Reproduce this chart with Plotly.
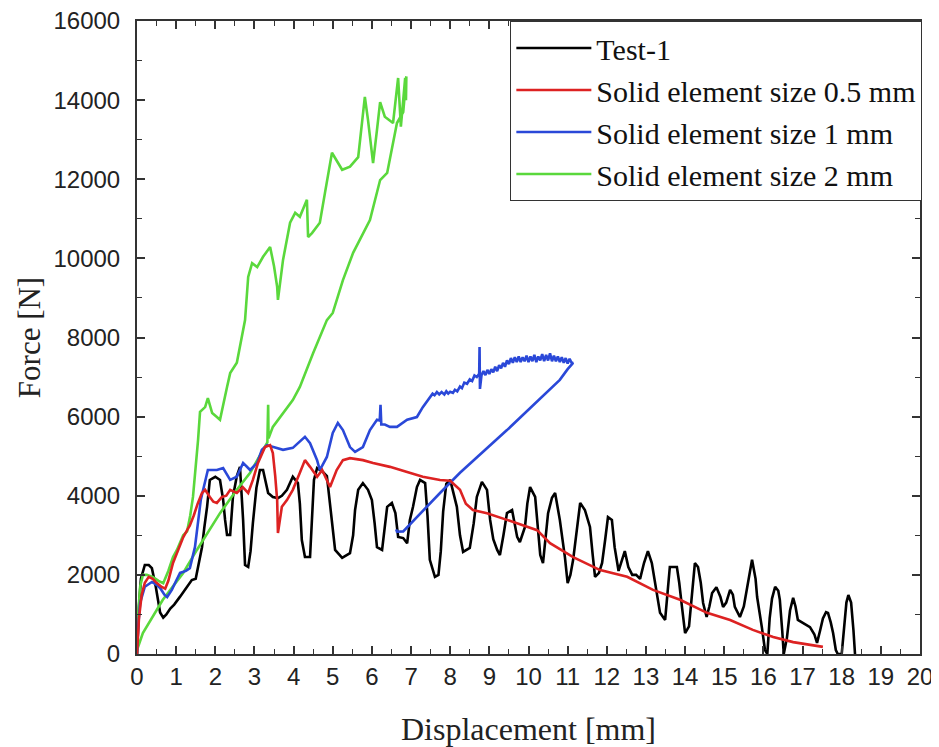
import plotly.graph_objects as go

# ---------------- data ----------------
test_x = [0, 0.05, 0.1, 0.2, 0.3, 0.38, 0.48, 0.59, 0.67, 0.75, 0.85, 0.95, 1.1, 1.25, 1.4, 1.5,
          1.6, 1.66, 1.72, 1.79, 1.86, 2.0, 2.12, 2.2, 2.25, 2.3, 2.38, 2.45, 2.55, 2.63, 2.71, 2.76,
          2.84, 2.9, 2.96, 3.05, 3.14, 3.22, 3.35, 3.47, 3.6, 3.7, 3.83, 3.98, 4.11, 4.16, 4.21, 4.29,
          4.42, 4.47, 4.52, 4.6, 4.75, 4.85, 4.95, 5.06, 5.24, 5.44, 5.52, 5.57, 5.65, 5.77, 5.9, 6.0,
          6.07, 6.13, 6.26, 6.33, 6.39, 6.51, 6.6, 6.67, 6.8, 6.9, 6.97, 7.05, 7.15, 7.23, 7.36, 7.42,
          7.48, 7.61, 7.7, 7.76, 7.82, 7.9, 8.0, 8.17, 8.25, 8.33, 8.5, 8.6, 8.68, 8.81, 8.94, 9.02,
          9.1, 9.2, 9.27, 9.36, 9.45, 9.58, 9.71, 9.78, 9.91, 9.97, 10.04, 10.17, 10.24, 10.3, 10.37,
          10.44, 10.5, 10.6, 10.68, 10.8, 10.93, 11.0, 11.07, 11.14, 11.23, 11.32, 11.44, 11.57, 11.64,
          11.7, 11.8, 11.88, 11.96, 12.03, 12.13, 12.2, 12.3, 12.4, 12.46, 12.55, 12.65, 12.75, 12.85,
          12.95, 13.05, 13.15, 13.23, 13.36, 13.49, 13.55, 13.61, 13.79, 13.85, 13.92, 14.0, 14.1,
          14.17, 14.25, 14.33, 14.4, 14.46, 14.55, 14.62, 14.69, 14.8, 14.9, 14.97, 15.05, 15.15,
          15.22, 15.27, 15.4, 15.5, 15.58, 15.71, 15.8, 15.84, 15.96, 16.04, 16.1, 16.16, 16.22, 16.3,
          16.38, 16.42, 16.48, 16.52, 16.6, 16.68, 16.76, 16.82, 16.88, 17.01, 17.19, 17.3, 17.37,
          17.45, 17.52, 17.6, 17.65, 17.72, 17.78, 17.85, 17.9, 18.0, 18.06, 18.12, 18.17, 18.24,
          18.3, 18.34]
test_y = [0, 1200, 1900, 2250, 2250, 2170, 1700, 1050, 920, 1000, 1150, 1250, 1450, 1650, 1870, 1900,
          2400, 2700, 3200, 3720, 4400, 4480, 4400, 3900, 3390, 3010, 3010, 3970, 4500, 4730, 3390, 2250,
          2200, 2600, 3310, 4200, 4650, 4650, 4070, 3970, 3940, 4000, 4150, 4480, 4320, 3800, 2880, 2450,
          2450, 3400, 4400, 4700, 4600, 4500, 3600, 2630, 2430, 2550, 3000, 3640, 4150, 4320, 4150, 3890,
          3300, 2700, 2630, 3200, 3720, 3820, 3560, 2960, 2930, 2800, 3390, 3720, 4220, 4400, 4320, 3500,
          2380, 1950, 2000, 2600, 3600, 4300, 4400, 3720, 3000, 2580, 2680, 3300, 3970, 4350, 4150, 3390,
          2900, 2630, 2500, 3000, 3560, 3640, 2960, 2830, 3210, 3800, 4220, 3970, 3060, 2500, 2300,
          2900, 3560, 3950, 4070, 3390, 2450, 1790, 2000, 2380, 3100, 3820, 3640, 3210, 2500,
          1950, 2050, 2300, 2900, 3460, 3390, 2700, 2100, 2400, 2600, 2200, 2000, 2000, 1900,
          2300, 2600, 2300, 1790, 1040, 860, 1500, 2200, 2200, 1800, 1190, 530, 700,
          1500, 2300, 2200, 1800, 1290, 935, 1200, 1540, 1690, 1450, 1190, 1300, 1620,
          1500, 1190, 935, 1200, 1690, 2380, 1900, 1440, 680, 100, 0, 900, 1400, 1700,
          1600, 1370, 600, 0, 400, 1100, 1420, 1200, 860, 780, 680, 500, 280,
          600, 900, 1060, 1040, 800, 530, 100, 0, 0, 600, 1300, 1490, 1300,
          600, 0]

s05_x = [0, 0.05, 0.12, 0.2, 0.3, 0.4, 0.5, 0.62, 0.72, 0.8, 0.92, 1.05, 1.18, 1.28, 1.35, 1.45, 1.55,
         1.66, 1.74, 1.86, 1.95, 2.04, 2.17, 2.28, 2.38, 2.55, 2.7, 2.84, 2.96, 3.09, 3.27, 3.4, 3.47,
         3.53, 3.58, 3.6, 3.65, 3.7, 3.83, 3.98, 4.16, 4.29, 4.42, 4.6, 4.73, 4.85, 4.93, 5.1, 5.26,
         5.44, 5.77, 6.03, 6.46, 6.9, 7.3, 7.74, 8.0, 8.25, 8.4, 8.58, 8.94, 9.45, 9.96, 10.22, 10.55,
         11.14, 11.83, 12.52, 13.18, 13.87, 14.56, 15.15, 15.73, 16.25, 16.76, 17.19, 17.52]
s05_y = [0, 900, 1500, 1800, 1950, 1900, 1800, 1700, 1650, 1850, 2300, 2650, 2950, 3130, 3250, 3500, 3800,
         4070, 4150, 3970, 3850, 3820, 3970, 4000, 4150, 4070, 4220, 4070, 4400, 4830, 5230, 5280, 5080,
         4500, 3890, 3060, 3400, 3720, 3890, 4150, 4580, 4900, 4730, 4480, 4650, 4400, 4220, 4650, 4900,
         4950, 4900, 4830, 4730, 4600, 4480, 4400, 4380, 4150, 3800, 3640, 3560, 3390, 3210, 3130, 2800,
         2450, 2120, 1950, 1620, 1370, 1040, 860, 610, 430, 300, 230, 180]

s1_x = [0, 0.03, 0.08, 0.2, 0.38, 0.5, 0.59, 0.7, 0.77, 0.89, 1.0, 1.1, 1.25, 1.35, 1.48, 1.56, 1.63,
        1.69, 1.81, 2.04, 2.2, 2.38, 2.55, 2.71, 2.89, 3.07, 3.19, 3.32, 3.47, 3.73, 3.98, 4.16, 4.29,
        4.42, 4.6, 4.67, 4.85, 5.0, 5.13, 5.26, 5.44, 5.57, 5.77, 5.95, 6.13, 6.2, 6.22, 6.24, 6.33,
        6.46, 6.64, 6.9, 7.15, 7.3, 7.48, 7.55, 7.6, 7.66, 7.72, 7.78, 7.85, 7.9, 7.95, 8.0, 8.07,
        8.12, 8.18, 8.25, 8.3, 8.36, 8.43, 8.5, 8.56, 8.62, 8.68, 8.74, 8.75, 8.76,
        8.8, 8.85, 8.9, 8.95, 9.0, 9.05, 9.1, 9.15, 9.2, 9.25, 9.3, 9.35, 9.4, 9.45, 9.5, 9.55, 9.6,
        9.65, 9.7, 9.75, 9.8, 9.85, 9.9, 9.95, 10.0, 10.05, 10.1, 10.15, 10.2, 10.25, 10.3, 10.35,
        10.4, 10.45, 10.5, 10.55, 10.6, 10.65, 10.7, 10.75, 10.8, 10.85, 10.9, 10.95, 11.0, 11.05,
        11.1, 11.14, 11.0, 10.8, 9.45, 8.25, 7.74, 6.8, 6.64, 6.62]
s1_y = [0, 700, 1290, 1700, 1820, 1750, 1670, 1500, 1440, 1620, 1850, 2050, 2100, 2170, 2700, 3390, 3900,
        4150, 4650, 4650, 4700, 4400, 4480, 4830, 4650, 4830, 5160, 5280, 5230, 5160, 5210, 5360, 5490,
        5330, 4900, 4650, 4980, 5590, 5840, 5660, 5230, 5110, 5230, 5660, 5920, 5900, 6300, 5800, 5800,
        5740, 5740, 5920, 5990, 6240, 6500, 6580, 6540, 6620, 6560, 6620, 6560, 6640, 6580, 6630, 6600,
        6680, 6640, 6760, 6720, 6860, 6830, 6940, 6900, 7040, 7000, 7080, 7760, 6700,
        7050, 7150, 7050, 7180, 7080, 7200, 7120, 7260, 7150, 7300, 7220, 7360, 7260, 7420, 7330, 7480, 7360,
        7500, 7380, 7520, 7380, 7500, 7400, 7540, 7380, 7520, 7400, 7560, 7380, 7520, 7420, 7580,
        7400, 7560, 7420, 7600, 7400, 7540, 7400, 7520, 7380, 7500, 7360, 7480, 7340, 7460,
        7360, 7360, 7200, 6930, 5660, 4580, 4070, 3100, 3090, 3150]

s2_x = [0, 0.03, 0.08, 0.15, 0.25, 0.4, 0.55, 0.67, 0.8, 0.92, 1.02, 1.18, 1.28, 1.36, 1.43, 1.5, 1.56,
        1.61, 1.74, 1.81, 1.92, 2.04, 2.12, 2.3, 2.38, 2.55, 2.68, 2.76, 2.84, 2.94, 3.07, 3.22, 3.4, 3.5,
        3.58, 3.6, 3.73, 3.91, 4.04, 4.16, 4.34, 4.37, 4.47, 4.67, 4.8, 4.98, 5.24, 5.44, 5.65, 5.82, 5.9,
        6.03, 6.13, 6.21, 6.33, 6.54, 6.67, 6.74, 6.85, 6.87, 6.88, 6.8, 6.64, 6.39, 6.21, 5.95, 5.52,
        5.26, 5.0, 4.85, 4.5, 4.16, 3.98, 3.47, 3.36, 3.35, 3.33, 2.89, 2.55, 2.12, 1.53, 1.18, 0.66,
        0.15, 0]
s2_y = [0, 1000, 1700, 2000, 2000, 1950, 1850, 1790, 2100, 2450, 2630, 3000, 3100, 3500, 3970, 4700, 5410,
        6120, 6240, 6470, 6090, 5990, 5920, 6750, 7100, 7360, 8020, 8440, 9530, 9880, 9780, 10040, 10290, 9800,
        9280, 8950, 9960, 10900, 11150, 11050, 11480, 10540, 10640, 10900, 11650, 12670, 12240, 12320, 12560, 14080, 13500,
        12410, 13250, 13950, 13580, 13420, 14560, 13330, 14560, 14000, 14600, 13700, 13420, 12160, 11980, 10970, 10140,
        9450, 8620, 8440, 7610, 6750, 6420, 5740, 5450, 6300, 5350, 4580, 4150, 3560, 2630, 2050, 1370,
        530, 100]

series_names = ["Test-1", "Solid element size 0.5 mm", "Solid element size 1 mm", "Solid element size 2 mm"]
series_colors = ["#000000", "#dd2222", "#2a48d8", "#5ad83c"]

x_ticks = list(range(0, 21))
y_ticks = list(range(0, 16001, 2000))

SERIF = "Liberation Serif, Times New Roman, serif"
SANS = "Liberation Sans, Arial, sans-serif"

# ---------------- figure ----------------
fig = go.Figure()
data = [(test_x, test_y), (s05_x, s05_y), (s1_x, s1_y), (s2_x, s2_y)]
draw_order = [0, 3, 2, 1]
for i in draw_order:
    xs, ys = data[i]
    fig.add_trace(go.Scatter(
        x=xs, y=ys, mode="lines", name=series_names[i], legendrank=i + 1,
        line=dict(color=series_colors[i], width=2.6),
    ))

axis_common = dict(
    showgrid=False, zeroline=False, showline=True, linecolor="#333333", linewidth=2,
    mirror="ticks", ticks="inside", tickcolor="#333333", tickwidth=1.5, ticklen=8,
    tickfont=dict(family=SANS, size=24, color="#222222"),
    automargin=False, ticklabeloverflow="allow",
)

fig.update_xaxes(
    range=[0, 20], tickvals=x_ticks, ticktext=[str(v) for v in x_ticks],
    minor=dict(dtick=0.5, ticks="inside", ticklen=5, tickcolor="#333333", tickwidth=1.2),
    title=dict(text="Displacement [mm]", font=dict(family=SERIF, size=32, color="#222222"), standoff=30),
    **axis_common,
)
fig.update_yaxes(
    range=[0, 16000], tickvals=y_ticks, ticktext=[str(v) for v in y_ticks],
    minor=dict(dtick=1000, ticks="inside", ticklen=5, tickcolor="#333333", tickwidth=1.2),
    title=dict(text="Force [N]", font=dict(family=SERIF, size=31, color="#222222"), standoff=4),
    ticklabelstandoff=10,
    **axis_common,
)

# the page body has an 8 px margin, so the figure is sized to fit the 939x747 window
fig.update_layout(
    width=931, height=739,
    margin=dict(l=129, r=19, t=13, b=93),
    paper_bgcolor="white", plot_bgcolor="white",
    showlegend=True,
    legend=dict(
        x=1.003, y=1, xanchor="right", yanchor="top",
        bgcolor="white", bordercolor="#333333", borderwidth=1,
        font=dict(family=SERIF, size=30, color="#111111"),
        itemwidth=75, tracegroupgap=0,
    ),
)

fig.write_html("out.html")
